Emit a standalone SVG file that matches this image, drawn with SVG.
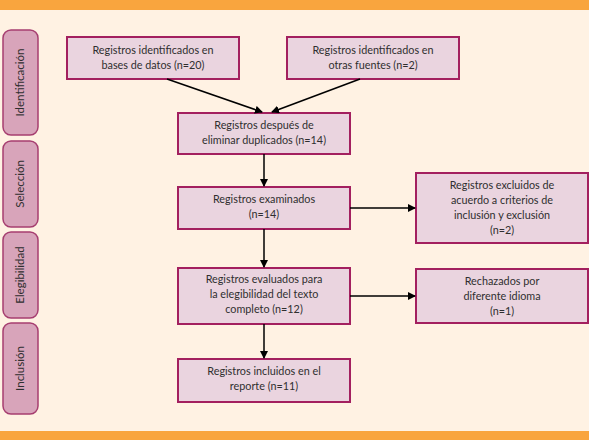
<svg xmlns="http://www.w3.org/2000/svg" width="589" height="440" viewBox="0 0 589 440">
<defs>
<marker id="ah" markerWidth="8" markerHeight="8" refX="7" refY="4" orient="auto" markerUnits="userSpaceOnUse">
<path d="M0,0 L8,4 L0,8 Z" fill="#000"/>
</marker>
<style>
.bg{fill:#FFF2E3}
.bar{fill:#F9A53E}
.side{fill:#D8A4BA;stroke:#A63E70;stroke-width:1.5}
.box{fill:#EAD4DF;stroke:#A3205F;stroke-width:2}
text{font-family:Lato,"Open Sans","Noto Sans",sans-serif;font-size:10.8px;fill:#2f2f2f;text-anchor:middle}
.lab{font-size:11.5px}
.conn line{stroke:#000;stroke-width:1.5;marker-end:url(#ah)}
</style>
</defs>
<rect class="bg" x="0" y="0" width="589" height="440"/>
<rect class="bar" x="0" y="0" width="589" height="10"/>
<rect class="bar" x="0" y="431" width="589" height="9"/>

<g id="stage-identificacion"><rect class="side" x="3" y="30" width="35" height="105" rx="8"/><text class="lab" transform="translate(24,82.5) rotate(-90)">Identificación</text></g>
<g id="stage-seleccion"><rect class="side" x="3" y="141" width="35" height="86" rx="8"/><text class="lab" transform="translate(24,184) rotate(-90)">Selección</text></g>
<g id="stage-elegibilidad"><rect class="side" x="3" y="232" width="35" height="86" rx="8"/><text class="lab" transform="translate(24,275) rotate(-90)">Elegibilidad</text></g>
<g id="stage-inclusion"><rect class="side" x="3" y="323" width="35" height="91" rx="8"/><text class="lab" transform="translate(24,368.5) rotate(-90)">Inclusión</text></g>

<g id="n1"><rect class="box" x="67" y="37" width="172" height="42"/><text x="153" y="54">Registros identificados en</text><text x="153" y="69">bases de datos (n=20)</text></g>
<g id="n2"><rect class="box" x="287" y="37" width="172" height="42"/><text x="373" y="54">Registros identificados en</text><text x="373" y="69">otras fuentes (n=2)</text></g>
<g id="n3"><rect class="box" x="178" y="113" width="172" height="41"/><text x="264" y="129">Registros después de</text><text x="264" y="144">eliminar duplicados (n=14)</text></g>
<g id="n4"><rect class="box" x="178" y="187" width="172" height="42"/><text x="264" y="203">Registros examinados</text><text x="264" y="218">(n=14)</text></g>
<g id="n5"><rect class="box" x="416" y="173" width="172" height="70"/><text x="502" y="189">Registros excluidos de</text><text x="502" y="204">acuerdo a criterios de</text><text x="502" y="219">inclusión y exclusión</text><text x="502" y="234">(n=2)</text></g>
<g id="n6"><rect class="box" x="178" y="268" width="172" height="56"/><text x="264" y="283">Registros evaluados para</text><text x="264" y="298">la elegibilidad del texto</text><text x="264" y="313">completo (n=12)</text></g>
<g id="n7"><rect class="box" x="416" y="269" width="172" height="54"/><text x="502" y="285">Rechazados por</text><text x="502" y="300">diferente idioma</text><text x="502" y="315">(n=1)</text></g>
<g id="n8"><rect class="box" x="178" y="359" width="172" height="43"/><text x="264" y="375">Registros incluidos en el</text><text x="264" y="390">reporte (n=11)</text></g>

<g class="conn" id="connectors">
<line x1="167" y1="79" x2="262" y2="112"/>
<line x1="360" y1="79" x2="272" y2="112"/>
<line x1="264" y1="154" x2="264" y2="186"/>
<line x1="350" y1="208" x2="415" y2="208"/>
<line x1="264" y1="229" x2="264" y2="267"/>
<line x1="350" y1="296" x2="415" y2="296"/>
<line x1="264" y1="324" x2="264" y2="358"/>
</g>
</svg>
